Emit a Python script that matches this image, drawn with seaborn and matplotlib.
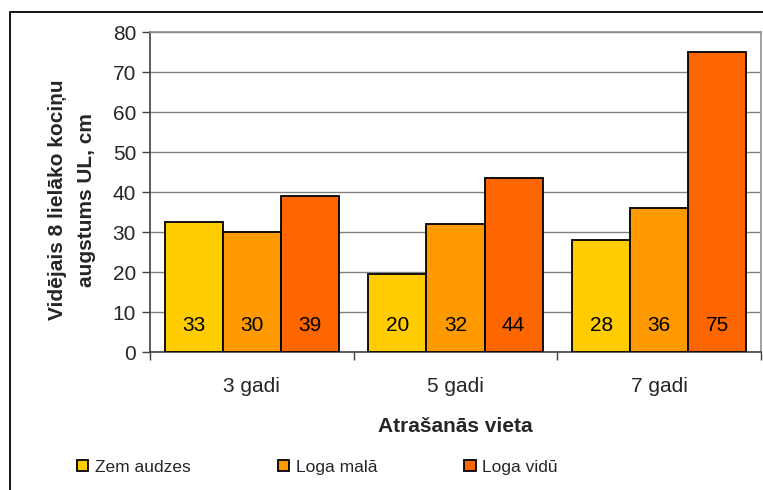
import matplotlib
matplotlib.use("Agg")
import matplotlib.pyplot as plt
from matplotlib.patches import Rectangle
from matplotlib.ticker import FixedLocator, MultipleLocator
import pandas as pd
import seaborn as sns

categories = ["3 gadi", "5 gadi", "7 gadi"]
series = ["Zem audzes", "Loga malā", "Loga vidū"]
values = {
    "Zem audzes": [32.5, 19.5, 28.0],
    "Loga malā": [30.0, 32.0, 36.0],
    "Loga vidū": [39.0, 43.5, 75.0],
}
bar_labels = {
    "Zem audzes": ["33", "20", "28"],
    "Loga malā": ["30", "32", "36"],
    "Loga vidū": ["39", "44", "75"],
}
colors = ["#FFCC00", "#FF9900", "#FF6600"]

rows = []
for s in series:
    for c, v in zip(categories, values[s]):
        rows.append({"vieta": c, "serija": s, "augstums": v})
df = pd.DataFrame(rows)

sns.set_theme(style="white")
plt.rcParams["font.family"] = ["Liberation Sans", "DejaVu Sans"]

fig = plt.figure(figsize=(7.63, 4.90), dpi=100)
ax = fig.add_axes([150 / 763, 1 - 352 / 490, 611 / 763, 320 / 490])

sns.barplot(data=df, x="vieta", y="augstums", hue="serija", order=categories,
            hue_order=series, palette=colors, width=0.855, edgecolor="black",
            linewidth=1.3, saturation=1, ax=ax, zorder=3)

# value labels near the bottom of each bar
for s, cont in zip(series, ax.containers):
    for patch, lab in zip(cont.patches, bar_labels[s]):
        ax.text(patch.get_x() + patch.get_width() / 2, 6.6, lab, ha="center",
                va="center", fontsize=15, color="black", zorder=4)

ax.set_ylim(0, 80)
ax.set_xlim(-0.5, 2.5)
ax.yaxis.set_major_locator(MultipleLocator(10))
ax.grid(axis="y", color="#808080", linewidth=1, zorder=0)
ax.set_axisbelow(True)

for side in ["top", "right"]:
    ax.spines[side].set_color("#909090")
    ax.spines[side].set_linewidth(1.2)
for side in ["left", "bottom"]:
    ax.spines[side].set_color("#404040")
    ax.spines[side].set_linewidth(1.2)

ax.tick_params(axis="y", which="major", left=True, length=6, width=1,
               color="#404040", labelsize=15, pad=4)
ax.tick_params(axis="x", which="major", bottom=False, labelsize=15, pad=12)
ax.xaxis.set_minor_locator(FixedLocator([-0.5, 0.5, 1.5, 2.5]))
ax.tick_params(axis="x", which="minor", bottom=True, length=6, width=1,
               color="#404040", direction="out")

ax.set_xlabel("Atrašanās vieta", fontsize=15, fontweight="bold", labelpad=15)
ax.set_ylabel("Vidējais 8 lielāko kociņu\naugstums UL, cm", fontsize=15,
              fontweight="bold", linespacing=1.65)
ax.yaxis.set_label_coords(-0.088, 0.475)

handles, labels = ax.get_legend_handles_labels()
ax.get_legend().remove()
fig.legend(handles, labels, loc="center left", bbox_to_anchor=(70 / 763, 1 - 467 / 490),
           ncol=3, frameon=False, fontsize=12.5, handlelength=0.65, handleheight=0.65,
           handletextpad=0.4, columnspacing=5.0, borderaxespad=0)

# outer chart frame (extends past right and bottom edges)
fig.patches.append(Rectangle((10 / 763, -0.05), 1.2, 1 - 12 / 490 + 0.05,
                             transform=fig.transFigure, fill=False,
                             edgecolor="black", linewidth=1.3, zorder=0))

fig.savefig("out.png", dpi=100)
